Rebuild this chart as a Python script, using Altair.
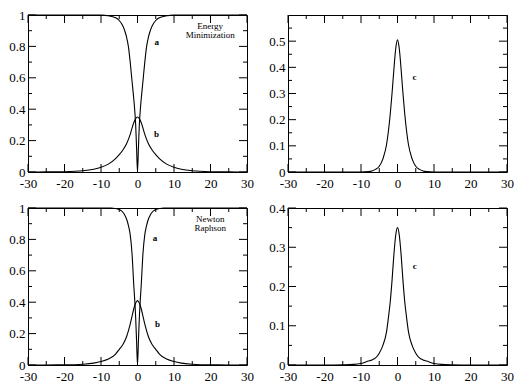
import altair as alt
import pandas as pd

# ---------------- data ----------------
x_a = [-30, -20, -15, -10, -8, -7, -6, -5, -4, -3.5, -3, -2.5, -2, -1.5, -1, -0.75, -0.5, -0.25, 0,
       0.25, 0.5, 0.75, 1, 1.5, 2, 2.5, 3, 3.5, 4, 5, 6, 7, 8, 10, 15, 20, 30]
em_a = [1, 1, 1, 0.999, 0.995, 0.99, 0.982, 0.965, 0.93, 0.9, 0.86, 0.8, 0.7, 0.58, 0.46, 0.39, 0.3, 0.15, 0,
        0.15, 0.3, 0.39, 0.46, 0.58, 0.7, 0.8, 0.86, 0.9, 0.93, 0.965, 0.982, 0.99, 0.995, 0.999, 1, 1, 1]
nr_a = [1, 1, 1, 1, 1, 0.999, 0.997, 0.99, 0.973, 0.955, 0.93, 0.89, 0.83, 0.71, 0.5, 0.41, 0.3, 0.15, 0,
        0.15, 0.3, 0.41, 0.5, 0.71, 0.83, 0.89, 0.93, 0.955, 0.973, 0.99, 0.997, 0.999, 1, 1, 1, 1, 1]

x_b = [-30, -25, -20, -15, -12, -10, -8, -6, -5, -4, -3, -2, -1.5, -1, -0.5, 0,
       0.5, 1, 1.5, 2, 3, 4, 5, 6, 8, 10, 12, 15, 20, 25, 30]
em_b = [0, 0.0005, 0.002, 0.008, 0.018, 0.03, 0.05, 0.085, 0.11, 0.14, 0.18, 0.24, 0.28, 0.315, 0.34, 0.35,
        0.34, 0.315, 0.28, 0.24, 0.18, 0.14, 0.11, 0.085, 0.05, 0.03, 0.018, 0.008, 0.002, 0.0005, 0]
nr_b = [0, 0.0003, 0.001, 0.005, 0.012, 0.022, 0.038, 0.07, 0.1, 0.13, 0.18, 0.26, 0.31, 0.36, 0.395, 0.41,
        0.395, 0.36, 0.31, 0.26, 0.18, 0.13, 0.1, 0.07, 0.038, 0.022, 0.012, 0.005, 0.001, 0.0003, 0]

x_c = [-30, -20, -15, -12, -10, -8, -7, -6, -5, -4, -3, -2.5, -2, -1.5, -1, -0.5, 0,
       0.5, 1, 1.5, 2, 2.5, 3, 4, 5, 6, 7, 8, 10, 12, 15, 20, 30]
em_c = [0, 0, 0, 0, 0, 0.0015, 0.004, 0.01, 0.022, 0.05, 0.105, 0.155, 0.22, 0.3, 0.39, 0.47, 0.505,
        0.47, 0.39, 0.3, 0.22, 0.155, 0.105, 0.05, 0.022, 0.01, 0.004, 0.0015, 0, 0, 0, 0, 0]
nr_c = [0, 0, 0.0005, 0.0015, 0.004, 0.01, 0.013, 0.018, 0.03, 0.05, 0.085, 0.12, 0.16, 0.215, 0.28, 0.33, 0.35,
        0.33, 0.28, 0.215, 0.16, 0.12, 0.085, 0.05, 0.03, 0.018, 0.013, 0.01, 0.004, 0.0015, 0.0005, 0, 0]

# tick values
x_major = [-30, -20, -10, 0, 10, 20, 30]
x_minor = [-25, -15, -5, 5, 15, 25]
y1_major = [0, 0.2, 0.4, 0.6, 0.8, 1]
y1_minor = [0.1, 0.3, 0.5, 0.7, 0.9]
y2_major = [0, 0.1, 0.2, 0.3, 0.4, 0.5]
y2_minor = [0.05, 0.15, 0.25, 0.35, 0.45, 0.55]
y4_major = [0, 0.1, 0.2, 0.3, 0.4]
y4_minor = [0.05, 0.15, 0.25, 0.35]

# annotations
em_letters = ["a", "b"]
em_letter_x = [5.3, 5.2]
em_letter_y = [0.83, 0.24]
nr_letters = ["a", "b"]
nr_letter_x = [4.8, 5.5]
nr_letter_y = [0.81, 0.26]
em_title = ["Energy", "Minimization"]
nr_title = ["Newton", "Raphson"]
title_x = [19.9, 19.9]
title_y = [0.93, 0.87]
c_letter = ["c"]
c1_x, c1_y = [4.65], [0.363]
c2_x, c2_y = [4.7], [0.253]

# ---------------- layout ----------------
W, H = 219, 157
MAJ, MIN = 8, 4
FONT = "Liberation Serif"
XS = alt.Scale(domain=[-30, 30], nice=False, zero=False)


def axis(vals, pad):
    return alt.Axis(values=vals, ticks=False, domain=False, grid=False,
                    labelFont=FONT, labelFontSize=13, labelColor="black",
                    labelFlush=False, labelOverlap=False, labelPadding=pad,
                    labelExpr="toString(datum.value)")


def panel(curves, ydom, ylabels, ymaj, ymin, letters, titles):
    ys = alt.Scale(domain=ydom, nice=False, zero=False)
    XA = axis(x_major, 5)
    YA = axis(ylabels, 3)

    def X(f="x"):
        return alt.X(f + ":Q", scale=XS, axis=XA, title=None)

    def Y(f="y"):
        return alt.Y(f + ":Q", scale=ys, axis=YA, title=None)

    layers = []
    for xs, vs in curves:
        df = pd.DataFrame({"x": xs, "y": vs})
        layers.append(alt.Chart(df).mark_line(color="black", strokeWidth=1.1,
                                              interpolate="monotone").encode(x=X(), y=Y()))

    def xticks(vals, ln):
        d = pd.DataFrame({"x": vals})
        b = alt.Chart(d).mark_rule(color="black", strokeWidth=1).encode(
            x=X(), y=alt.value(H), y2=alt.value(H - ln))
        t = alt.Chart(d).mark_rule(color="black", strokeWidth=1).encode(
            x=X(), y=alt.value(0), y2=alt.value(ln))
        return [b, t]

    def yticks(vals, ln):
        d = pd.DataFrame({"y": vals})
        l = alt.Chart(d).mark_rule(color="black", strokeWidth=1).encode(
            y=Y(), x=alt.value(0), x2=alt.value(ln))
        r = alt.Chart(d).mark_rule(color="black", strokeWidth=1).encode(
            y=Y(), x=alt.value(W), x2=alt.value(W - ln))
        return [l, r]

    layers += xticks(x_major, MAJ) + xticks(x_minor, MIN)
    layers += yticks(ymaj, MAJ) + yticks(ymin, MIN)

    lt, lx, ly = letters
    ldf = pd.DataFrame({"t": lt, "x": lx, "y": ly})
    layers.append(alt.Chart(ldf).mark_text(font=FONT, fontSize=9, fontWeight="bold",
                                           color="black").encode(x=X(), y=Y(), text="t:N"))
    if titles is not None:
        tt, tx, ty = titles
        tdf = pd.DataFrame({"t": tt, "x": tx, "y": ty})
        layers.append(alt.Chart(tdf).mark_text(font=FONT, fontSize=9, color="black").encode(
            x=X(), y=Y(), text="t:N"))
    return alt.layer(*layers).properties(width=W, height=H)


p1 = panel([(x_a, em_a), (x_b, em_b)], [0, 1], y1_major, y1_major, y1_minor,
           (em_letters, em_letter_x, em_letter_y), (em_title, title_x, title_y))
p2 = panel([(x_c, em_c)], [0, 0.6], y2_major, y2_major, y2_minor,
           (c_letter, c1_x, c1_y), None)
p3 = panel([(x_a, nr_a), (x_b, nr_b)], [0, 1], y1_major, y1_major, y1_minor,
           (nr_letters, nr_letter_x, nr_letter_y), (nr_title, title_x, title_y))
p4 = panel([(x_c, nr_c)], [0, 0.4], y4_major, y4_major, y4_minor,
           (c_letter, c2_x, c2_y), None)

chart = alt.vconcat(
    alt.hconcat(p1, p2, spacing=14),
    alt.hconcat(p3, p4, spacing=14),
    spacing=10,
).properties(padding=0, background="white").configure(
    font=FONT
).configure_axis(labelFont=FONT).configure_view(stroke="black", strokeWidth=1)

chart.save("out.html", embed_options={"renderer": "svg", "actions": False})
